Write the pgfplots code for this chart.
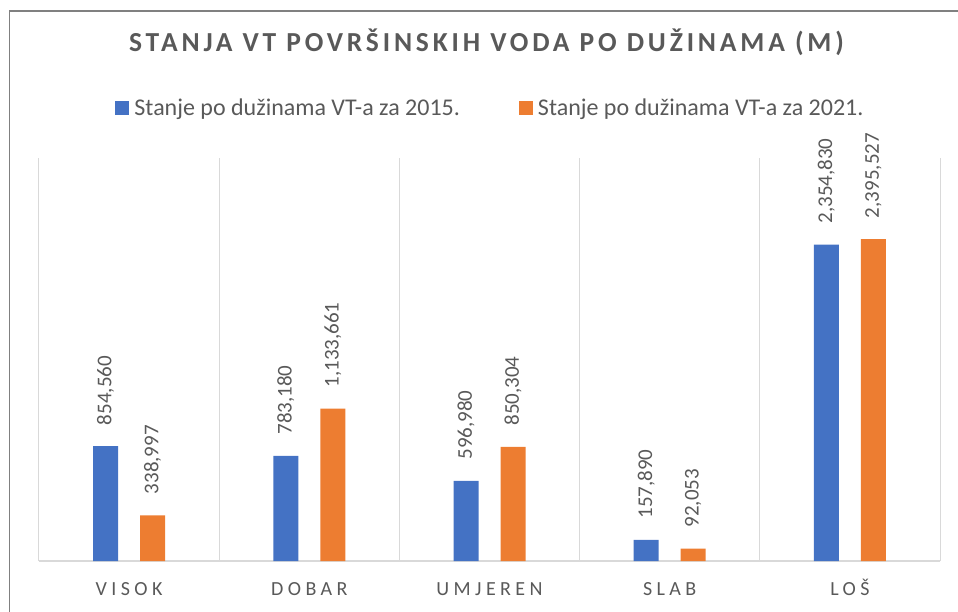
\documentclass[border=0pt]{standalone}
\usepackage{fontspec}
\setmainfont{Carlito}
\newfontfamily\titlefont[LetterSpace=14]{Carlito}
\newfontfamily\catfont[LetterSpace=22]{Carlito}
\usepackage{pgfplots}
\pgfplotsset{compat=1.18}
\usepackage{pgfplotstable}
\definecolor{cblue}{HTML}{4472C4}
\definecolor{corange}{HTML}{ED7D31}
\definecolor{tgray}{HTML}{595959}
\definecolor{ggray}{HTML}{D9D9D9}
\definecolor{fgray}{HTML}{808080}

\pgfplotstableread{
x y lab
0 854560 854,560
1 783180 783,180
2 596980 596,980
3 157890 157,890
4 2354830 2,354,830
}\tA
\pgfplotstableread{
x y lab
0 338997 338,997
1 1133661 1,133,661
2 850304 850,304
3 92053 92,053
4 2395527 2,395,527
}\tB

\begin{document}
\begin{tikzpicture}
\useasboundingbox (0pt,0pt) rectangle (958pt,-612pt);
\draw[fgray, line width=1.5pt] (9.5pt,-613pt) -- (9.5pt,-11pt) -- (960pt,-11pt);
\begin{axis}[
  at={(39pt,-561pt)}, anchor=south west,
  scale only axis, width=901pt, height=403pt,
  xmin=-0.5, xmax=4.5, ymin=0, ymax=3000000,
  axis line style={draw=none},
  ytick=\empty,
  xtick={0,1,2,3,4},
  xticklabels={VISOK,DOBAR,UMJEREN,SLAB,LOŠ},
  major tick length=0pt, minor tick length=0pt,
  minor xtick={-0.5,0.5,1.5,2.5,3.5,4.5},
  xminorgrids,
  minor grid style={ggray, line width=1pt},
  extra y ticks={0},
  extra y tick labels={},
  extra y tick style={ymajorgrids=true, major grid style={ggray, line width=1.3pt}},
  xticklabel style={font=\catfont\fontsize{20}{24}\selectfont, text=tgray, anchor=base, yshift=-34pt},
  ybar, bar width=25pt,
  point meta=explicit symbolic,
  nodes near coords,
  nodes near coords style={rotate=90, anchor=west, font=\fontsize{21}{25}\selectfont, text=tgray, inner xsep=21pt},
  title={\titlefont\bfseries STANJA VT POVRŠINSKIH VODA PO DUŽINAMA (M)},
  title style={at={(0.4967,1.2506)}, anchor=base, font=\fontsize{27.5}{32}\selectfont, text=tgray},
  legend style={at={(0.5,1.124)}, anchor=center, draw=none, fill=none,
    legend columns=2, font=\fontsize{24}{28}\selectfont, text=tgray,
    nodes={inner sep=0pt},
    /tikz/every odd column/.append style={column sep=5pt},
    /tikz/every even column/.append style={column sep=59pt}},
  legend image code/.code={\fill[#1] (0pt,-7pt) rectangle (14pt,7pt);},
]
\addplot[fill=cblue, draw=none, bar shift=-23.5pt] table[x=x, y=y, meta=lab] {\tA};
\addplot[fill=corange, draw=none, bar shift=23.5pt] table[x=x, y=y, meta=lab] {\tB};
\legend{Stanje po dužinama VT-a za 2015.,Stanje po dužinama VT-a za 2021.}
\end{axis}
\end{tikzpicture}
\end{document}
